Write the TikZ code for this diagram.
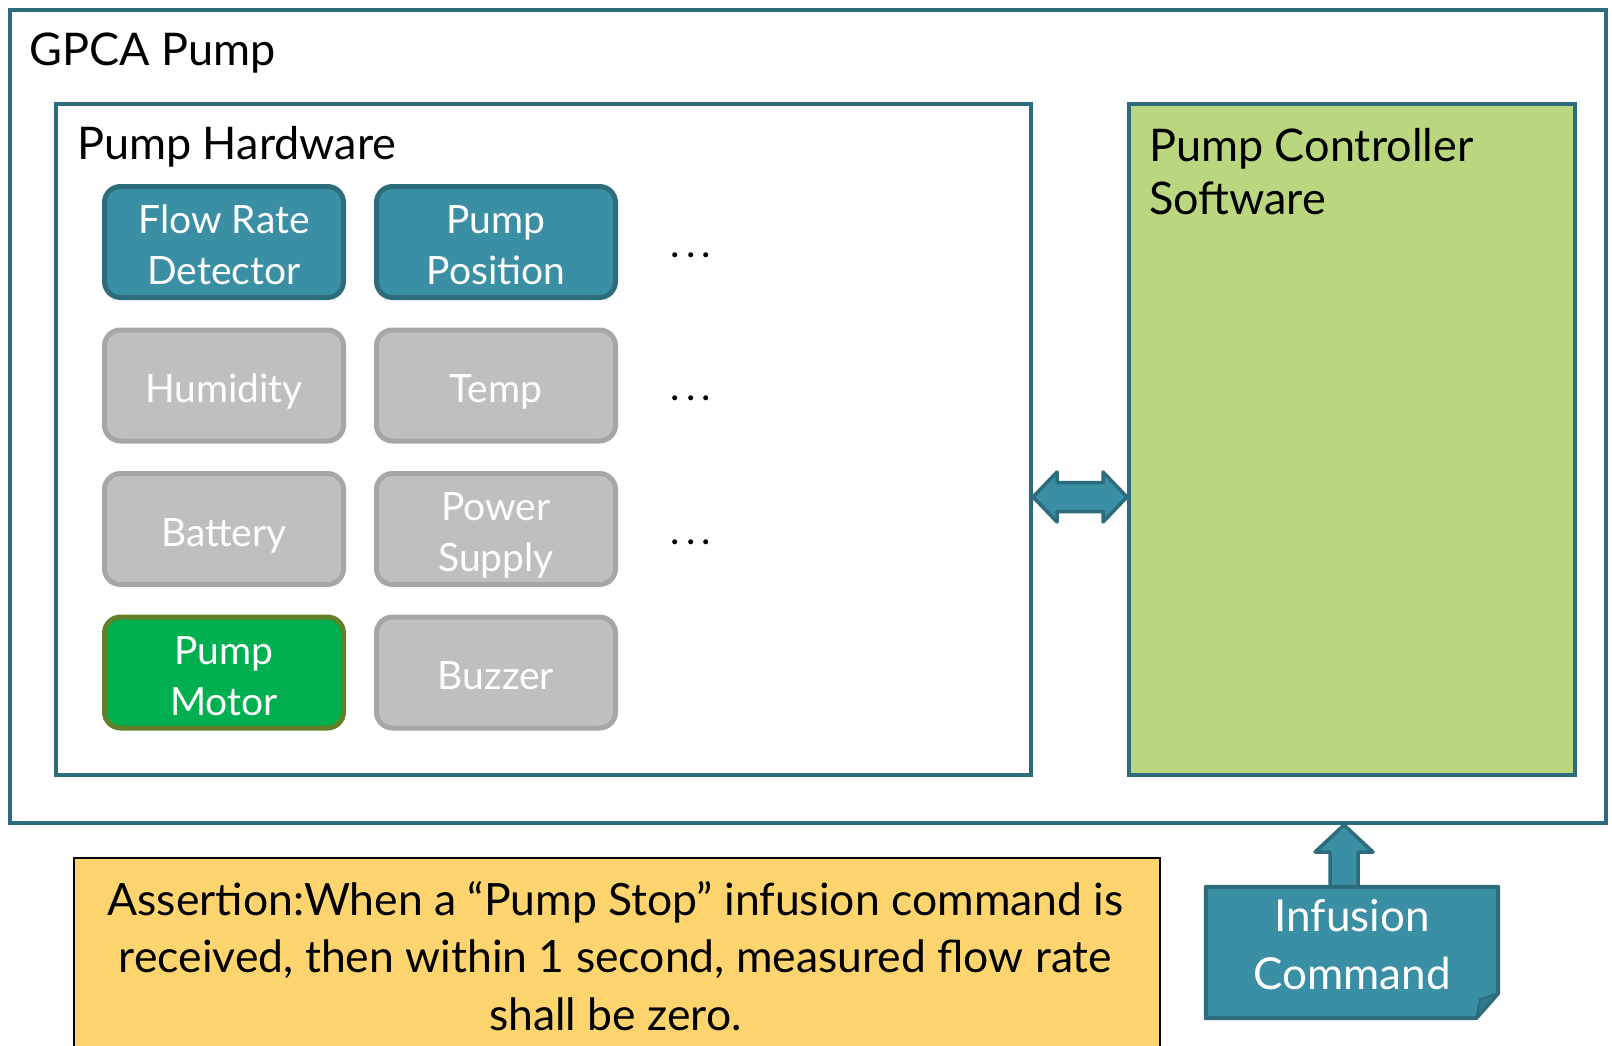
\documentclass[tikz,border=0pt]{standalone}
\usepackage{fontspec}
\setmainfont{Lato}
\usetikzlibrary{calc}

\definecolor{tealfill}{RGB}{58,143,165}
\definecolor{tealline}{RGB}{44,108,124}
\definecolor{greyfill}{RGB}{191,191,191}
\definecolor{greyline}{RGB}{166,166,166}
\definecolor{motorfill}{RGB}{0,176,80}
\definecolor{motorline}{RGB}{98,128,40}
\definecolor{swfill}{RGB}{186,214,126}
\definecolor{notefill}{RGB}{253,212,110}
\definecolor{foldfill}{RGB}{48,120,140}

% fixed line box for component captions, so every caption sits alike
\newcommand{\captop}{\rule{0pt}{42pt}}
\newcommand{\capbot}{\rule[-8pt]{0pt}{8pt}}

\tikzset{
  frame/.style={rectangle, draw=tealline, line width=4pt, inner sep=0pt},
  heading/.style={font=\fontsize{45}{52}\selectfont, anchor=base west, inner sep=0pt, align=left},
  part/.style={rectangle, rounded corners=16pt, line width=5pt,
    minimum width=239pt, minimum height=111pt, inner sep=0pt,
    align=center, text=white, font=\fontsize{39}{51}\selectfont},
  active/.style={part, fill=tealfill, draw=tealline},
  idle/.style={part, fill=greyfill, draw=greyline},
  motor/.style={part, fill=motorfill, draw=motorline},
  more/.style={font=\fontsize{40}{48}\selectfont, inner sep=0pt, anchor=base},
  blockarrow/.style={fill=tealfill, draw=tealline, line width=3.5pt, line join=round},
}

\begin{document}
\begin{tikzpicture}[x=1pt, y=-1pt]
\clip (0,0) rectangle (1612,1046);
\fill[white] (0,0) rectangle (1612,1046);

% outer system frame
\node[frame, fill=white, minimum width=1596pt, minimum height=813pt] (gpca) at (808,416.5) {};
\node[heading] (gpcatitle) at (29,66) {GPCA Pump};

% hardware frame
\node[frame, fill=white, minimum width=975pt, minimum height=671pt] (hw) at (543.5,439.5) {};
\node[heading] (hwtitle) at (77,160) {Pump Hardware};

% software frame (base anchor of a two-line heading sits on its last line)
\node[frame, fill=swfill, minimum width=446pt, minimum height=671pt] (sw) at (1352,439.5) {};
\node[heading] (swtitle) at (1149,214) {Pump Controller\\Software};

% hardware components
\node[active] (flow)  at (224,242)   {\captop Flow Rate\\Detector\capbot};
\node[active] (pos)   at (496,242)   {\captop Pump\\Position\capbot};
\node[idle]   (hum)   at (224,385.5) {\captop Humidity\capbot};
\node[idle]   (temp)  at (496,385.5) {\captop Temp\capbot};
\node[idle]   (bat)   at (224,529)   {\captop Battery\capbot};
\node[idle]   (psu)   at (496,529)   {\captop Power\\Supply\capbot};
\node[motor]  (mot)   at (224,672.5) {\captop Pump\\Motor\capbot};
\node[idle]   (buz)   at (496,672.5) {\captop Buzzer\capbot};

\node[more] (more1) at (691,257)   {.\kern6pt.\kern6pt.};
\node[more] (more2) at (691,400.5) {.\kern6pt.\kern6pt.};
\node[more] (more3) at (691,544)   {.\kern6pt.\kern6pt.};

% two-way link between hardware and software
\coordinate (linkl) at (hw.east |- 0,497);
\coordinate (linkr) at (sw.west |- 0,497);
\draw[blockarrow] (linkl) -- ($(linkl)+(24,-25)$) -- ($(linkl)+(24,-14.5)$)
  -- ($(linkr)+(-24,-14.5)$) -- ($(linkr)+(-24,-25)$) -- (linkr)
  -- ($(linkr)+(-24,25)$) -- ($(linkr)+(-24,14.5)$)
  -- ($(linkl)+(24,14.5)$) -- ($(linkl)+(24,25)$) -- cycle;

% infusion command input
\coordinate (cmdtip) at (1344,825);
\draw[blockarrow] (cmdtip) -- ($(cmdtip)+(29,27)$) -- ($(cmdtip)+(14,27)$)
  -- ($(cmdtip)+(14,64)$) -- ($(cmdtip)+(-14,64)$) -- ($(cmdtip)+(-14,27)$)
  -- ($(cmdtip)+(-29,27)$) -- cycle;

\node[rectangle, minimum width=292pt, minimum height=131pt, inner sep=0pt] (cmd) at (1352,952.5) {};
\draw[fill=tealfill, draw=tealline, line width=4pt, line join=round]
  (cmd.north west) -- (cmd.north east) -- ($(cmd.south east)+(0,-25)$)
  -- ($(cmd.south east)+(-22,0)$) -- (cmd.south west) -- cycle;
\draw[fill=foldfill, draw=tealline, line width=2pt, line join=round]
  ($(cmd.south east)+(-22,0)$) -- ($(cmd.south east)+(-18,-19)$) -- ($(cmd.south east)+(0,-25)$) -- cycle;
\node[align=center, text=white, font=\fontsize{44}{58}\selectfont, inner sep=0pt] (cmdtext) at (1352,945) {Infusion\\Command};

% assertion note
\node[rectangle, fill=notefill, draw=black, line width=2pt, minimum width=1086pt,
      minimum height=220pt, anchor=north west] (note) at (73,857) {};
\node[align=center, font=\fontsize{44.5}{57.5}\selectfont, inner sep=0pt] (notetext) at (615.5,956)
  {Assertion:When a “Pump Stop” infusion command is\\received, then within 1 second, measured flow rate\\shall be zero.};
\end{tikzpicture}
\end{document}
